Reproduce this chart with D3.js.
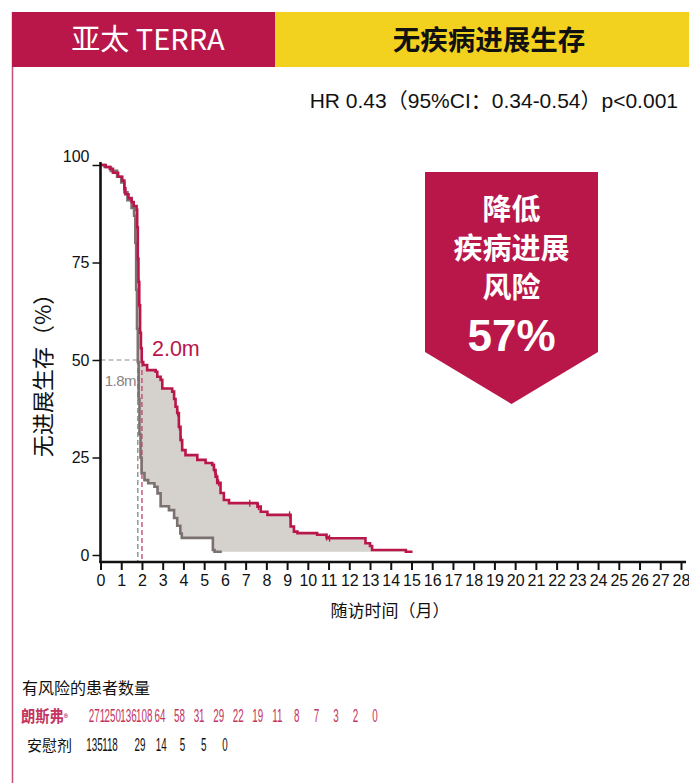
<!DOCTYPE html>
<html>
<head>
<meta charset="utf-8">
<script src="https://cdn.jsdelivr.net/npm/d3@7/dist/d3.min.js"></script>
<style>
  html, body { margin: 0; padding: 0; background: #fff; }
  svg { display: block; }
  text { font-family: "Liberation Sans", "Noto Sans CJK SC", sans-serif; }
  .cjk { font-family: "Noto Sans CJK SC", "Liberation Sans", sans-serif; }
</style>
</head>
<body>
<svg id="chart" width="689" height="783"></svg>
<script>
// Kaplan–Meier progression-free survival, TERRA (Asia-Pacific)
// Treatment arm (朗斯弗) step curve: time (months) and survival (%)
const treatTime = [0, 0.25, 0.45, 0.6, 0.85, 1.05, 1.15, 1.2, 1.35, 1.5, 1.6, 1.74, 1.77, 1.8, 1.83, 1.87, 1.91, 1.95, 1.99, 2.06, 2.25, 2.66, 2.74, 2.9, 2.98, 3.46, 3.55, 3.62, 3.7, 3.78, 3.86, 3.94, 4.1, 4.67, 5.07, 5.39, 5.47, 5.55, 5.63, 5.79, 5.95, 6.2, 7.57, 7.73, 8.05, 9.17, 9.33, 9.5, 10.45, 10.9, 10.98, 12.78, 13.0, 13.1, 14.73, 15.05];
const treatSurv = [100, 99.5, 99, 98, 97, 96, 94, 92.5, 91.5, 90.5, 89.5, 88.5, 84, 76, 70, 64, 57, 53, 49.5, 48.7, 47.4, 47, 45.7, 44.9, 42.7, 41.9, 40, 38, 36.4, 32.9, 29.5, 26.9, 25.6, 24.4, 23.6, 23.1, 21.8, 20.1, 18.5, 15.9, 14.1, 13.3, 12.4, 11.1, 10.3, 7.3, 6.0, 5.6, 5.2, 4.6, 4.3, 3.0, 2.3, 1.3, 0.85, 0.85];
// Placebo arm (安慰剂)
const placeboTime = [0, 0.2, 0.5, 0.8, 1.0, 1.15, 1.3, 1.5, 1.62, 1.68, 1.72, 1.76, 1.8, 1.84, 1.88, 1.93, 1.98, 2.12, 2.3, 2.6, 2.75, 2.9, 3.3, 3.55, 3.7, 3.85, 3.92, 5.42, 5.5, 5.85];
const placeboSurv = [100, 99.5, 98.5, 97, 95.5, 93, 91, 89, 87, 80, 68, 58, 49.5, 40, 31, 25, 21, 19.2, 18.4, 17.5, 15.8, 12.5, 11.5, 9.5, 7.5, 5.5, 4.4, 1.3, 0.85, 0.85];
// Censoring times on the treatment curve
const treatCensor = [1.82, 1.85, 1.88, 3.72, 3.8, 3.9, 5.5, 5.6, 5.7, 7.2, 7.62, 9.12, 10.9, 11.05];

// Medians (months)
const medianTreat = 2.0;
const medianPlacebo = 1.8;

// Axes
const xTicks = d3.range(0, 29);
const yTicks = [0, 25, 50, 75, 100];

// Patients at risk
const riskTreat = [271, 250, 136, 108, 64, 58, 31, 29, 22, 19, 11, 8, 7, 3, 2, 0];
const riskPlacebo = [135, 118, 29, 14, 5, 5, 0];

const CRIMSON = "#b9164a";
const YELLOW = "#f3d21f";
const GREY_LINE = "#7b7171";
const FILL = "#d5d2ce";

const svg = d3.select("#chart");

// ---- header band ----
svg.append("line").attr("x1", 12.5).attr("x2", 12.5).attr("y1", 12).attr("y2", 783)
  .attr("stroke", "#c9507a").attr("stroke-width", 1.5);
svg.append("rect").attr("x", 12).attr("y", 12).attr("width", 263).attr("height", 55).attr("fill", CRIMSON);
svg.append("rect").attr("x", 275).attr("y", 12).attr("width", 414).attr("height", 55).attr("fill", YELLOW);
svg.append("text").attr("class", "cjk").attr("x", 148).attr("y", 50).attr("text-anchor", "middle")
  .attr("fill", "#fff").attr("font-size", 29).text("亚太 TERRA");
svg.append("text").attr("class", "cjk").attr("x", 489).attr("y", 50).attr("text-anchor", "middle")
  .attr("fill", "#111").attr("font-size", 27.5).attr("font-weight", 700).text("无疾病进展生存");

svg.append("text").attr("x", 678).attr("y", 108).attr("text-anchor", "end")
  .attr("fill", "#111").attr("font-size", 21).text("HR 0.43（95%CI：0.34-0.54）p<0.001");

// ---- scales ----
const x = d3.scaleLinear().domain([0, 28]).range([100.5, 681]);
const y = d3.scaleLinear().domain([0, 100]).range([555, 165]);
const axisY = 562;

// step-function lookup
function stepValue(times, surv, t) {
  const i = d3.bisectRight(times, t) - 1;
  return surv[Math.max(0, i)];
}

const treat = treatTime.map((t, i) => ({ t, s: treatSurv[i] }));
const placebo = placeboTime.map((t, i) => ({ t, s: placeboSurv[i] }));

// shaded band between the two curves
const grid = Array.from(new Set([...treatTime, ...placeboTime])).sort((a, b) => a - b);
const band = grid.map(t => ({
  t,
  hi: stepValue(treatTime, treatSurv, t),
  lo: Math.min(stepValue(placeboTime, placeboSurv, t), stepValue(treatTime, treatSurv, t))
}));
svg.append("path").datum(band)
  .attr("fill", FILL)
  .attr("d", d3.area().curve(d3.curveStepAfter)
    .x(d => x(d.t)).y0(d => y(d.lo)).y1(d => y(d.hi)));

// median guide lines
svg.append("line").attr("x1", x(0)).attr("x2", x(medianPlacebo)).attr("y1", y(50)).attr("y2", y(50))
  .attr("stroke", "#b9b4b4").attr("stroke-width", 1.3).attr("stroke-dasharray", "5,3");
svg.append("line").attr("x1", x(medianPlacebo)).attr("x2", x(medianPlacebo)).attr("y1", y(50)).attr("y2", axisY)
  .attr("stroke", "#8c8585").attr("stroke-width", 1.3).attr("stroke-dasharray", "5,3");
svg.append("line").attr("x1", x(medianTreat)).attr("x2", x(medianTreat))
  .attr("y1", y(stepValue(treatTime, treatSurv, medianTreat))).attr("y2", axisY)
  .attr("stroke", "#c0406a").attr("stroke-width", 1.3).attr("stroke-dasharray", "5,3");

// curves
const line = d3.line().curve(d3.curveStepAfter).x(d => x(d.t)).y(d => y(d.s));
svg.append("path").datum(placebo).attr("fill", "none").attr("stroke", GREY_LINE)
  .attr("stroke-width", 2.6).attr("d", line);
svg.append("path").datum(treat).attr("fill", "none").attr("stroke", CRIMSON)
  .attr("stroke-width", 2.6).attr("d", line);

// censor marks
svg.append("g").selectAll("line").data(treatCensor).join("line")
  .attr("x1", d => x(d)).attr("x2", d => x(d))
  .attr("y1", d => y(stepValue(treatTime, treatSurv, d)) - 3.5)
  .attr("y2", d => y(stepValue(treatTime, treatSurv, d)) + 3.5)
  .attr("stroke", CRIMSON).attr("stroke-width", 1.3);

// median labels
svg.append("text").attr("x", x(medianTreat) + 10).attr("y", y(50) - 4)
  .attr("fill", CRIMSON).attr("font-size", 21.5).text(medianTreat.toFixed(1) + "m");
svg.append("text").attr("x", x(medianPlacebo) - 2).attr("y", y(50) + 26).attr("text-anchor", "end")
  .attr("fill", "#8a8282").attr("font-size", 15).attr("letter-spacing", -0.6).text(medianPlacebo.toFixed(1) + "m");

// ---- axes ----
const gx = svg.append("g").attr("transform", `translate(0,${axisY})`)
  .call(d3.axisBottom(x).tickValues(xTicks).tickSize(8).tickPadding(5).tickFormat(d3.format("d")));
gx.select(".domain").remove();
gx.selectAll(".tick line").attr("stroke", "#111").attr("stroke-width", 2);
gx.selectAll(".tick text").attr("font-size", 16).attr("fill", "#111")
  .attr("font-family", "Liberation Sans, sans-serif");
svg.append("line").attr("x1", x(0) - 1).attr("x2", 686).attr("y1", axisY).attr("y2", axisY)
  .attr("stroke", "#111").attr("stroke-width", 2.6);

const gy = svg.append("g").attr("transform", `translate(${x(0)},0)`)
  .call(d3.axisLeft(y).tickValues(yTicks).tickSize(8).tickPadding(3));
gy.select(".domain").remove();
gy.selectAll(".tick line").attr("stroke", "#111").attr("stroke-width", 1.5);
gy.selectAll(".tick text").attr("font-size", 16).attr("fill", "#111")
  .attr("font-family", "Liberation Sans, sans-serif")
  .attr("dy", d => d === 100 ? "-0.2em" : "0.32em");
svg.append("line").attr("x1", x(0)).attr("x2", x(0)).attr("y1", y(100) - 3).attr("y2", axisY + 1)
  .attr("stroke", "#111").attr("stroke-width", 2.6);

svg.append("text").attr("class", "cjk").attr("transform", "translate(51,370) rotate(-90)")
  .attr("text-anchor", "middle").attr("fill", "#111").attr("font-size", 22).text("无进展生存（%）");
svg.append("text").attr("class", "cjk").attr("x", 390).attr("y", 617).attr("text-anchor", "middle")
  .attr("fill", "#111").attr("font-size", 17).text("随访时间（月）");

// ---- callout ----
const cx0 = 425, cx1 = 598, cTop = 172, cShoulder = 352, cTip = 404;
svg.append("path").attr("fill", CRIMSON)
  .attr("d", `M${cx0},${cTop}L${cx1},${cTop}L${cx1},${cShoulder}L${(cx0 + cx1) / 2},${cTip}L${cx0},${cShoulder}Z`);
const cMid = (cx0 + cx1) / 2;
[["降低", 220], ["疾病进展", 259], ["风险", 298]].forEach(([t, yy]) => {
  svg.append("text").attr("class", "cjk").attr("x", cMid).attr("y", yy).attr("text-anchor", "middle")
    .attr("fill", "#fff").attr("font-size", 29).attr("font-weight", 700).text(t);
});
svg.append("text").attr("x", cMid).attr("y", 351).attr("text-anchor", "middle")
  .attr("fill", "#fff").attr("font-size", 44).attr("font-weight", 700)
  .attr("font-family", "Open Sans, Liberation Sans, sans-serif").text("57%");

// ---- number at risk ----
svg.append("text").attr("class", "cjk").attr("x", 22).attr("y", 694)
  .attr("fill", "#111").attr("font-size", 16).text("有风险的患者数量");

const treatLabel = svg.append("text").attr("class", "cjk")
  .attr("transform", "translate(21,722) scale(0.92,1)")
  .attr("fill", "#c43560").attr("font-size", 15.5).attr("font-weight", 700);
treatLabel.append("tspan").text("朗斯弗");
treatLabel.append("tspan").attr("font-size", 9).attr("dy", -1).text("®");

svg.append("text").attr("class", "cjk").attr("x", 27).attr("y", 751)
  .attr("fill", "#111").attr("font-size", 15).text("安慰剂");

const treatPos = d3.scaleLinear().domain([0, 4, 15]).range([97, 160, 375]);
const placeboPos = d3.scaleLinear().domain([0, 1, 2, 6]).range([94.5, 110, 140, 225]);

svg.append("g").selectAll("text").data(riskTreat).join("text")
  .attr("transform", (d, i) => `translate(${treatPos(i)},722) scale(0.56,1)`)
  .attr("text-anchor", "middle").attr("fill", "#c43560").attr("font-size", 17.5).text(d => d);
svg.append("g").selectAll("text").data(riskPlacebo).join("text")
  .attr("transform", (d, i) => `translate(${placeboPos(i)},751) scale(0.56,1)`)
  .attr("text-anchor", "middle").attr("fill", "#111").attr("font-size", 17.5).text(d => d);
</script>
</body>
</html>
